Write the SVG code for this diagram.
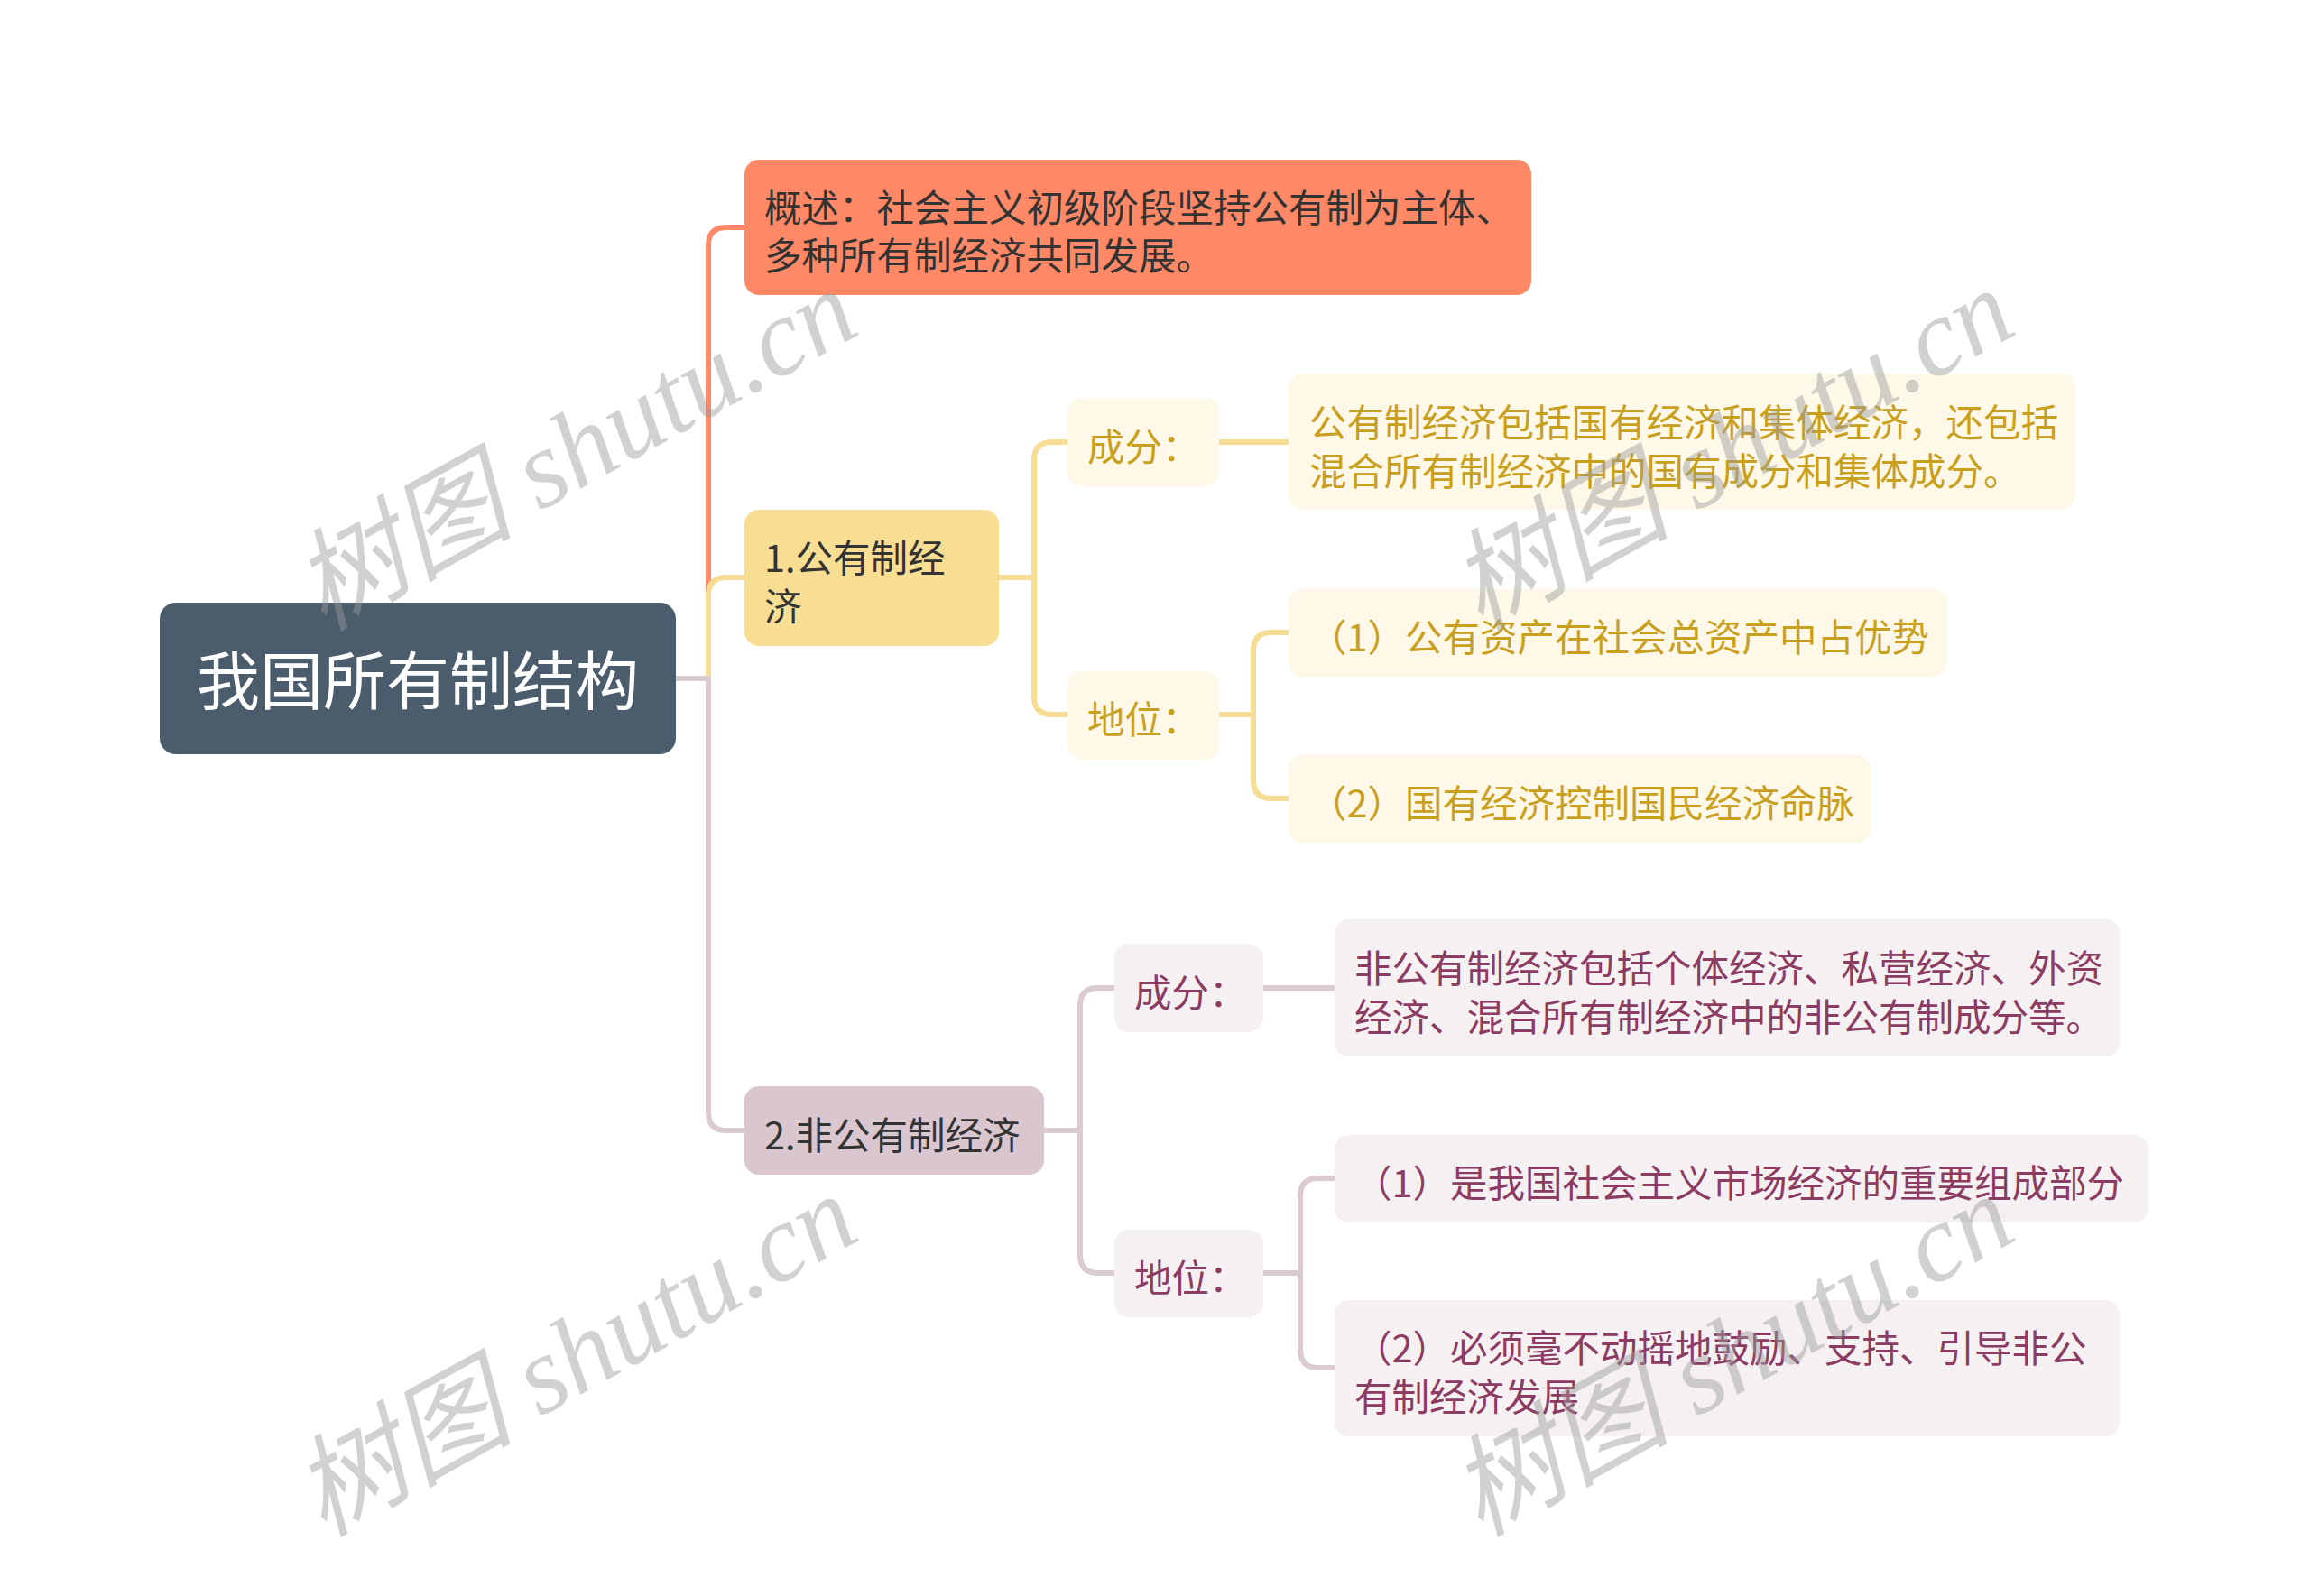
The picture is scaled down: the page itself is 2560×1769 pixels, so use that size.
<svg xmlns="http://www.w3.org/2000/svg" width="2560" height="1769" viewBox="0 0 2560 1769">
<style>
text{font-family:"Noto Sans CJK SC","Noto Sans",sans-serif;font-size:41.5px;dominant-baseline:central}
.root{font-size:70px;fill:#FFFFFF;text-anchor:middle}
.c{fill:none;stroke-width:6;stroke-linejoin:round}
.co{stroke:#FF8967}.cy{stroke:#F6DD93}.cp{stroke:#DCCAD3}
.dark{fill:#333333}
.gold{fill:#C9A01E}
.plum{fill:#8C3C63}
.wm{font-family:"Liberation Serif","Noto Sans CJK SC",serif;font-style:italic;font-size:122px;fill:#9A9A9A;opacity:0.45;dominant-baseline:alphabetic}
</style>
<rect width="2560" height="1769" fill="#FFFFFF"/>
<g id="connectors">
<path class="c co" d="M749,752 H785 V272 Q785,252 805,252 H826"/>
<path class="c cy" d="M749,752 H785 V660 Q785,640 805,640 H826"/>
<path class="c cp" d="M749,752 H785 V1233 Q785,1253 805,1253 H826"/>
<path class="c cy" d="M1107,640 H1146 V510 Q1146,490 1166,490 H1184"/>
<path class="c cy" d="M1107,640 H1146 V772 Q1146,792 1166,792 H1184"/>
<path class="c cy" d="M1350,490 H1429"/>
<path class="c cy" d="M1350,792 H1389 V721 Q1389,701 1409,701 H1429"/>
<path class="c cy" d="M1350,792 H1389 V865 Q1389,885 1409,885 H1429"/>
<path class="c cp" d="M1156,1253 H1197 V1115 Q1197,1095 1217,1095 H1236"/>
<path class="c cp" d="M1156,1253 H1197 V1391 Q1197,1411 1217,1411 H1236"/>
<path class="c cp" d="M1399,1095 H1480"/>
<path class="c cp" d="M1399,1411 H1441 V1326 Q1441,1306 1461,1306 H1480"/>
<path class="c cp" d="M1399,1411 H1441 V1496 Q1441,1516 1461,1516 H1480"/>
</g>
<g id="root">
<rect x="177" y="668" width="572" height="168" rx="18" fill="#4B5C6C"/>
<text class="root" x="463" y="750">我国所有制结构</text>
</g>
<g id="overview">
<rect x="825" y="177" width="872" height="150" rx="16" fill="#FF8967"/>
<text class="dark" x="847" y="228">概述：社会主义初级阶段坚持公有制为主体、</text>
<text class="dark" x="847" y="281">多种所有制经济共同发展。</text>
</g>
<g id="public">
<rect x="825" y="565" width="282" height="151" rx="16" fill="#F7DE92"/>
<text class="dark" x="847" y="616">1.公有制经</text>
<text class="dark" x="847" y="670">济</text>
</g>
<g id="public-comp">
<rect x="1183" y="441" width="168" height="98" rx="16" fill="#FDF8E7"/>
<text class="gold" x="1205" y="493">成分：</text>
</g>
<g id="public-comp-text">
<rect x="1428" y="414" width="872" height="151" rx="16" fill="#FDF8E7"/>
<text class="gold" x="1451" y="466">公有制经济包括国有经济和集体经济，还包括</text>
<text class="gold" x="1451" y="520">混合所有制经济中的国有成分和集体成分。</text>
</g>
<g id="public-pos">
<rect x="1183" y="744" width="168" height="98" rx="16" fill="#FDF8E7"/>
<text class="gold" x="1205" y="795">地位：</text>
</g>
<g id="public-pos-1">
<rect x="1428" y="653" width="730" height="97" rx="16" fill="#FDF8E7"/>
<text class="gold" x="1451" y="704">（1）公有资产在社会总资产中占优势</text>
</g>
<g id="public-pos-2">
<rect x="1428" y="837" width="646" height="97" rx="16" fill="#FDF8E7"/>
<text class="gold" x="1451" y="888">（2）国有经济控制国民经济命脉</text>
</g>
<g id="nonpublic">
<rect x="825" y="1204" width="332" height="98" rx="16" fill="#D9C6CF"/>
<text class="dark" x="847" y="1256">2.非公有制经济</text>
</g>
<g id="nonpublic-comp">
<rect x="1235" y="1046" width="165" height="98" rx="16" fill="#F5F1F3"/>
<text class="plum" x="1257" y="1098">成分：</text>
</g>
<g id="nonpublic-comp-text">
<rect x="1479" y="1019" width="870" height="152" rx="16" fill="#F5F1F3"/>
<text class="plum" x="1501" y="1071">非公有制经济包括个体经济、私营经济、外资</text>
<text class="plum" x="1501" y="1125">经济、混合所有制经济中的非公有制成分等。</text>
</g>
<g id="nonpublic-pos">
<rect x="1235" y="1363" width="165" height="97" rx="16" fill="#F5F1F3"/>
<text class="plum" x="1257" y="1414">地位：</text>
</g>
<g id="nonpublic-pos-1">
<rect x="1479" y="1258" width="902" height="97" rx="16" fill="#F5F1F3"/>
<text class="plum" x="1501" y="1309">（1）是我国社会主义市场经济的重要组成部分</text>
</g>
<g id="nonpublic-pos-2">
<rect x="1479" y="1441" width="870" height="151" rx="16" fill="#F5F1F3"/>
<text class="plum" x="1501" y="1492">（2）必须毫不动摇地鼓励、支持、引导非公</text>
<text class="plum" x="1501" y="1546">有制经济发展</text>
</g>
<g id="watermarks">
<text class="wm" transform="translate(358,700) rotate(-29)">树图 shutu.cn</text>
<text class="wm" transform="translate(1640,700) rotate(-29)">树图 shutu.cn</text>
<text class="wm" transform="translate(358,1704) rotate(-29)">树图 shutu.cn</text>
<text class="wm" transform="translate(1640,1704) rotate(-29)">树图 shutu.cn</text>
</g>
</svg>
